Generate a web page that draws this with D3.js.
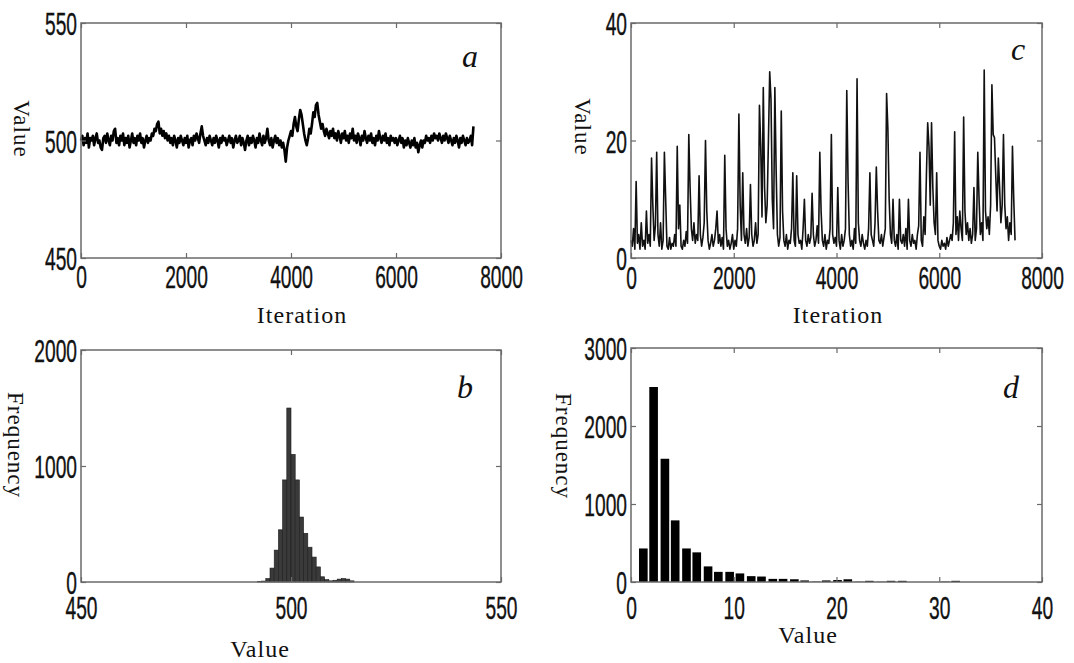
<!DOCTYPE html>
<html>
<head>
<meta charset="utf-8">
<script src="https://cdnjs.cloudflare.com/ajax/libs/d3/7.8.5/d3.min.js"></script>
<style>
  body { margin: 0; background: #fff; }
  .tick text { font-family: "Liberation Sans", Arial, sans-serif; fill: #111; stroke: #111; stroke-width: 0.4; }
  .title { font-family: "Liberation Serif", "Times New Roman", serif; fill: #111; }
</style>
</head>
<body>
<svg id="fig" width="1074" height="663"></svg>
<script>
// ---- values ----
var traceStep = 25   // iterations between stored samples

// panel a : trace of parameter 1
var traceA = [
  500, 502, 498, 501, 499, 503, 497, 501, 500, 502,
  498, 501, 503, 499, 500, 497, 496, 501, 502, 499,
  503, 500, 498, 502, 500, 504, 505, 499, 501, 498,
  502, 500, 503, 498, 501, 499, 502, 497, 500, 503,
  499, 501, 498, 502, 500, 503, 499, 501, 497, 500,
  502, 499, 501, 500, 503, 502, 505, 504, 507, 508,
  503, 505, 502, 504, 501, 503, 500, 502, 499, 501,
  498, 502, 500, 497, 501, 499, 502, 500, 498, 501,
  499, 502, 497, 500, 501, 498, 502, 500, 503, 501,
  499, 503, 506, 502, 500, 498, 501, 499, 502, 500,
  498, 501, 499, 502, 500, 497, 501, 499, 502, 500,
  501, 498, 500, 502, 499, 501, 497, 500, 502, 499,
  500, 502, 498, 501, 499, 496, 500, 502, 498, 501,
  499, 502, 500, 497, 501, 499, 503, 500, 498, 502,
  499, 501, 505, 500, 498, 501, 497, 500, 502, 499,
  501, 498, 500, 497, 499, 496, 491, 497, 500, 502,
  504, 502, 507, 510, 506, 504, 509, 513, 511, 507,
  503, 500, 498, 501, 505, 503, 507, 512, 510, 515,
  516, 511, 508, 505, 507, 504, 502, 505, 503, 501,
  504, 502, 505, 501, 503, 500, 504, 502, 499, 503,
  501, 504, 500, 502, 499, 503, 501, 505, 500, 502,
  499, 503, 501, 498, 502, 500, 504, 501, 499, 502,
  500, 503, 499, 501, 498, 502, 500, 504, 501, 499,
  502, 500, 503, 499, 501, 498, 502, 500, 501, 499,
  501, 498, 500, 502, 499, 501, 497, 500, 498, 501,
  499, 497, 500, 498, 501, 497, 499, 495, 498, 500,
  497, 500, 499, 502, 500, 501, 499, 502, 500, 503,
  501, 502, 500, 503, 501, 499, 502, 500, 503, 501,
  499, 502, 500, 498, 501, 499, 502, 500, 497, 501,
  499, 502, 500, 498, 501, 499, 500, 502, 498, 506
]

// panel c : trace of parameter 2
var traceC = [
  3, 2, 5, 1.5, 13, 2.5, 4, 1.5, 6, 2,
  3, 1.5, 8, 2.5, 4, 2, 17, 9, 3, 5.5,
  18, 4, 2, 6, 1.5, 3, 18, 10, 2, 1.5,
  3.5, 1.5, 2.5, 2, 4, 2, 19, 5, 9, 2,
  1.5, 3, 2, 4.5, 2.5, 21, 12, 5, 3, 6,
  2.5, 4, 3, 14, 4, 2, 3.5, 6, 20, 8,
  3, 1.5, 2.5, 4, 2, 3, 5, 8, 2.5, 4,
  2, 3.5, 1.5, 17.5, 5, 2, 3, 1.5, 2.5, 4,
  1.5, 3, 2, 5, 24.5, 9, 3, 14.5, 4, 2.5,
  5, 2, 3.5, 12.5, 4, 2, 3, 6, 2.5, 4,
  26, 19, 7, 29, 12, 6, 9, 20, 31.7, 27,
  10, 5, 29, 15, 4, 2, 3.5, 25, 8, 3,
  2, 4, 1.5, 3, 2.5, 5, 14.5, 3, 2, 14,
  4, 2.5, 3, 1.5, 5, 10, 3, 2, 4, 2.5,
  3.5, 11, 4, 2, 3, 5.5, 2.5, 18, 8, 3,
  2, 4, 1.5, 3, 2.5, 5, 21, 4, 2.5, 3.5,
  2, 12, 3, 1.5, 4, 2, 3, 5, 28.5, 13,
  4, 2, 3, 1.5, 5, 2.5, 30.5, 6, 3, 2,
  4, 2.5, 1.5, 3, 2, 5, 14.5, 4, 3, 2,
  6, 15.5, 8, 3, 2.5, 4, 2, 3.5, 5, 28,
  22, 10, 4, 2.5, 10, 3, 2, 4, 1.5, 10,
  3, 2.5, 4, 2, 5, 1.5, 10, 3, 2, 4,
  2.5, 3, 1.5, 4, 5.5, 18, 3, 2, 7, 4,
  14, 23, 19, 9, 23, 12, 6, 4, 14.5, 3,
  2, 1.5, 3, 2, 2.5, 1.5, 3.5, 2, 3, 4,
  3, 6, 21.5, 4, 7, 3, 8, 5, 3, 24,
  8, 4, 6, 3, 5, 2.5, 4, 12, 3, 5,
  18, 10, 4, 6, 3, 32, 8, 5, 7, 4,
  9, 29.5, 21, 20.5, 14, 8, 17, 12, 6, 9,
  21, 9, 5, 7, 3, 6, 4, 19, 10, 3
]

// panel b : histogram of parameter 1 (bin left edges, width 1)
var histBEdges = [492, 493, 494, 495, 496, 497, 498, 499, 500, 501, 502, 503,
                  504, 505, 506, 507, 508, 509, 510, 511, 512, 513, 514]
var histBCounts = [3, 8, 30, 120, 275, 450, 880, 1500, 1100, 880, 560, 420,
                   300, 215, 130, 45, 20, 10, 15, 25, 30, 25, 10]

// panel d : histogram of parameter 2 (30 bins)
var histDCenters = [1.2, 2.2, 3.3, 4.3, 5.4, 6.4, 7.5, 8.5, 9.6, 10.6,
                    11.7, 12.7, 13.8, 14.8, 15.9, 16.9, 18.0, 19.0, 20.1, 21.1,
                    22.2, 23.2, 24.3, 25.3, 26.4, 27.4, 28.5, 29.5, 30.6, 31.6]
var histDCounts = [430, 2500, 1580, 790, 430, 380, 200, 130, 130, 110,
                   75, 70, 40, 40, 35, 20, 5, 20, 25, 35,
                   3, 15, 3, 15, 15, 0, 0, 0, 5, 15]
var histDWidth = 1.05

// tick labels
var iterTicks = [0, 2000, 4000, 6000, 8000]
var valueTicksA = [450, 500, 550]
var valueTicksC = [0, 20, 40]
var valueTicksB = [450, 500, 550]
var freqTicksB = [0, 1000, 2000]
var valueTicksD = [0, 10, 20, 30, 40]
var freqTicksD = [0, 1000, 2000, 3000]

// ---- layout ----
var svg = d3.select("#fig")
var digitScale = 0.6

function panel(p) {
    var x = d3.scaleLinear().domain(p.xDomain).range([p.left, p.right])
    var y = d3.scaleLinear().domain(p.yDomain).range([p.bottom, p.top])
    var g = svg.append("g")

    p.draw(g, x, y)

    // box
    g.append("rect")
        .attr("x", p.left).attr("y", p.top)
        .attr("width", p.right - p.left).attr("height", p.bottom - p.top)
        .attr("fill", "none").attr("stroke", "#6a6a6a").attr("stroke-width", 1.5)

    var bottom = g.append("g")
        .attr("transform", "translate(0," + p.bottom + ")")
        .call(d3.axisBottom(x).tickValues(p.xTicks).tickSize(-5).tickPadding(p.xPad).tickFormat(d3.format("d")))
    var left = g.append("g")
        .attr("transform", "translate(" + p.left + ",0)")
        .call(d3.axisLeft(y).tickValues(p.yTicks).tickSize(-5).tickPadding(4).tickFormat(d3.format("d")))
    g.append("g")
        .attr("transform", "translate(0," + p.top + ")")
        .call(d3.axisTop(x).tickValues(p.xTicks).tickSize(-5).tickFormat(""))
    g.append("g")
        .attr("transform", "translate(" + p.right + ",0)")
        .call(d3.axisRight(y).tickValues(p.yTicks).tickSize(-5).tickFormat(""))

    g.selectAll(".domain").remove()
    g.selectAll(".tick line").attr("stroke", "#6a6a6a").attr("stroke-width", 1.2)
    g.selectAll(".tick text").attr("font-size", 32).attr("transform", "scale(" + digitScale + ",1)")
    left.selectAll(".tick text").attr("x", -4 / digitScale).attr("dy", "0.36em")

    // axis titles
    g.append("text").attr("class", "title")
        .attr("x", p.xTitle[0]).attr("y", p.xTitle[1])
        .attr("text-anchor", "middle").attr("font-size", 24).attr("letter-spacing", 1)
        .text(p.xLabel)
    g.append("text").attr("class", "title")
        .attr("transform", "translate(" + p.yTitle[0] + "," + p.yTitle[1] + ") rotate(90)")
        .attr("text-anchor", "middle").attr("dy", "0.35em").attr("font-size", 23).attr("letter-spacing", 1)
        .text(p.yLabel)
    // panel letter
    g.append("text").attr("class", "title")
        .attr("x", p.tag[0]).attr("y", p.tag[1])
        .attr("text-anchor", "middle").attr("font-size", 32).attr("font-style", "italic")
        .text(p.tagText)
}

var line = function (x, y) {
    return d3.line()
        .x(function (d, i) { return x(i * traceStep) })
        .y(function (d) { return y(d) })
}

// a
panel({
    left: 81, right: 501, top: 23, bottom: 258,
    xDomain: [0, 8000], yDomain: [450, 550],
    xTicks: iterTicks, yTicks: valueTicksA, xPad: 7,
    xLabel: "Iteration", xTitle: [302, 323],
    yLabel: "Value", yTitle: [22, 129],
    tagText: "a", tag: [470, 67],
    draw: function (g, x, y) {
        g.append("path").datum(traceA)
            .attr("d", line(x, y))
            .attr("fill", "none").attr("stroke", "#000").attr("stroke-width", 2.6)
            .attr("stroke-linejoin", "round")
    }
})

// c
panel({
    left: 631, right: 1042, top: 23, bottom: 258,
    xDomain: [0, 8000], yDomain: [0, 40],
    xTicks: iterTicks, yTicks: valueTicksC, xPad: 8,
    xLabel: "Iteration", xTitle: [838, 323],
    yLabel: "Value", yTitle: [583, 127],
    tagText: "c", tag: [1018, 60],
    draw: function (g, x, y) {
        g.append("path").datum(traceC)
            .attr("d", line(x, y))
            .attr("fill", "none").attr("stroke", "#111").attr("stroke-width", 1.6)
            .attr("stroke-linejoin", "round")
    }
})

// b
panel({
    left: 81, right: 501, top: 350, bottom: 582,
    xDomain: [450, 550], yDomain: [0, 2000],
    xTicks: valueTicksB, yTicks: freqTicksB, xPad: 14,
    xLabel: "Value", xTitle: [260, 657],
    yLabel: "Frequency", yTitle: [16, 445],
    tagText: "b", tag: [465, 398],
    draw: function (g, x, y) {
        g.selectAll("rect.bar").data(histBEdges).enter().append("rect")
            .attr("class", "bar")
            .attr("x", function (d) { return x(d) })
            .attr("width", function (d) { return x(d + 1) - x(d) })
            .attr("y", function (d, i) { return y(histBCounts[i]) })
            .attr("height", function (d, i) { return y(0) - y(histBCounts[i]) })
            .attr("fill", "#3a3a3a").attr("stroke", "#1c1c1c").attr("stroke-width", 0.6)
    }
})

// d
panel({
    left: 631, right: 1042, top: 348, bottom: 582,
    xDomain: [0, 40], yDomain: [0, 3000],
    xTicks: valueTicksD, yTicks: freqTicksD, xPad: 14,
    xLabel: "Value", xTitle: [808, 643],
    yLabel: "Frequency", yTitle: [564, 446],
    tagText: "d", tag: [1011, 398],
    draw: function (g, x, y) {
        var bw = histDWidth * 0.8
        g.selectAll("rect.bar").data(histDCenters).enter().append("rect")
            .attr("class", "bar")
            .attr("x", function (d) { return x(d - bw / 2) })
            .attr("width", function (d) { return x(d + bw / 2) - x(d - bw / 2) })
            .attr("y", function (d, i) { return y(histDCounts[i]) })
            .attr("height", function (d, i) { return y(0) - y(histDCounts[i]) })
            .attr("fill", "#000")
    }
})
</script>
</body>
</html>
